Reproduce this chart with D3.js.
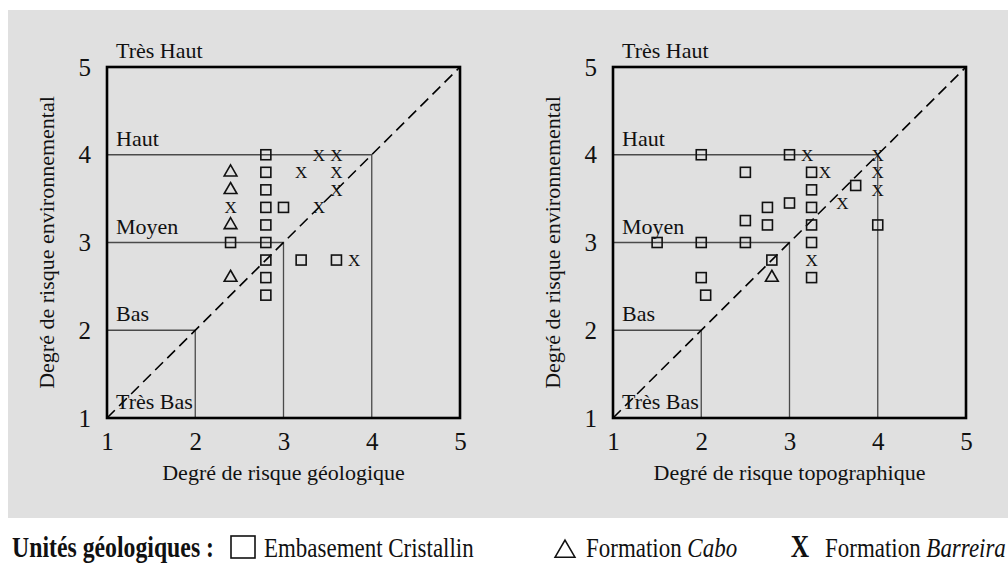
<!DOCTYPE html>
<html>
<head>
<meta charset="utf-8">
<script src="https://cdn.jsdelivr.net/npm/d3@7"></script>
<style>
  body { margin: 0; background: #fff; }
  svg { display: block; font-family: "Liberation Serif", "Times New Roman", serif; }
</style>
</head>
<body>
<svg width="1008" height="565"></svg>
<script>
var svg = d3.select("svg");

// --- data ---
var ticks = [1, 2, 3, 4, 5];
var levels = [2, 3, 4];
var zoneNames = ["Très Bas", "Bas", "Moyen", "Haut", "Très Haut"];
var zoneValues = [1, 2, 3, 4, 5];

// left panel : risque géologique vs environnemental
var geoSquares = [[2.8, 4.0], [2.8, 3.8], [2.8, 3.6], [2.8, 3.4], [2.8, 3.2], [2.8, 3.0],
                  [2.8, 2.8], [2.8, 2.6], [2.8, 2.4], [3.0, 3.4], [3.2, 2.8], [3.6, 2.8], [2.4, 3.0]];
var geoTriangles = [[2.4, 3.8], [2.4, 3.6], [2.4, 3.2], [2.4, 2.6]];
var geoCrosses = [[3.4, 4.0], [3.6, 4.0], [3.2, 3.8], [3.6, 3.8], [3.6, 3.6], [3.4, 3.4],
                  [2.4, 3.4], [3.8, 2.8]];

// right panel : risque topographique vs environnemental
var topoSquares = [[2.0, 4.0], [3.0, 4.0], [2.5, 3.8], [3.25, 3.8], [3.25, 3.6], [3.75, 3.65],
                   [2.75, 3.4], [3.0, 3.45], [3.25, 3.4], [2.5, 3.25], [2.75, 3.2], [3.25, 3.2],
                   [4.0, 3.2], [1.5, 3.0], [2.0, 3.0], [2.5, 3.0], [3.25, 3.0], [2.8, 2.8],
                   [2.0, 2.6], [2.05, 2.4], [3.25, 2.6]];
var topoTriangles = [[2.8, 2.6]];
var topoCrosses = [[3.2, 4.0], [3.4, 3.8], [4.0, 4.0], [4.0, 3.8], [4.0, 3.6], [3.6, 3.45], [3.25, 2.8]];

var legendTitle = "Unités géologiques :";
var legendItems = [
  {sym: "square", label: "Embasement Cristallin", italic: ""},
  {sym: "triangle", label: "Formation ", italic: "Cabo"},
  {sym: "cross", label: "Formation ", italic: "Barreira"}
];

// gray panel behind the two plots
svg.append("rect")
    .attr("x", 8).attr("y", 10)
    .attr("width", 1000).attr("height", 508)
    .attr("fill", "#e0e0e0");

function panel(left, xTitle, squares, triangles, crosses) {
  var x = d3.scaleLinear().domain([1, 5]).range([left, left + 353]),
      y = d3.scaleLinear().domain([1, 5]).range([418, 67]);

  var g = svg.append("g");

  // class boundaries
  g.selectAll(".level")
    .data(levels)
    .enter().append("path")
      .attr("class", "level")
      .attr("d", function(v) { return "M" + x(1) + "," + y(v) + "H" + x(v) + "V" + y(1); })
      .attr("fill", "none")
      .attr("stroke", "#4a4a4a")
      .attr("stroke-width", 1.3);

  // diagonal
  g.append("line")
      .attr("x1", x(1)).attr("y1", y(1))
      .attr("x2", x(5)).attr("y2", y(5))
      .attr("stroke", "#000")
      .attr("stroke-width", 1.6)
      .attr("stroke-dasharray", "11,6");

  // frame
  g.append("rect")
      .attr("x", x(1)).attr("y", y(5))
      .attr("width", x(5) - x(1)).attr("height", y(1) - y(5))
      .attr("fill", "none")
      .attr("stroke", "#000")
      .attr("stroke-width", 2.6);

  // axes
  var ax = g.append("g")
      .attr("transform", "translate(0," + y(1) + ")")
      .call(d3.axisBottom(x).tickValues(ticks).tickSize(0).tickPadding(14).tickFormat(d3.format("d")));
  var ay = g.append("g")
      .attr("transform", "translate(" + x(1) + ",0)")
      .call(d3.axisLeft(y).tickValues(ticks).tickSize(0).tickPadding(16).tickFormat(d3.format("d")));
  [ax, ay].forEach(function(a) {
    a.select(".domain").remove();
    a.attr("font-family", null).attr("font-size", 25)
     .selectAll("text").attr("fill", "#111");
  });

  // zone names
  g.selectAll(".zone")
    .data(zoneNames)
    .enter().append("text")
      .attr("class", "zone")
      .attr("x", x(1) + 9)
      .attr("y", function(d, i) { return y(zoneValues[i]) - 9; })
      .attr("font-size", 22)
      .attr("fill", "#111")
      .text(function(d) { return d; });

  // titles
  g.append("text")
      .attr("x", (x(1) + x(5)) / 2).attr("y", 480)
      .attr("text-anchor", "middle")
      .attr("font-size", 22)
      .attr("fill", "#111")
      .text(xTitle);
  g.append("text")
      .attr("transform", "translate(" + (x(1) - 53) + "," + ((y(1) + y(5)) / 2) + ") rotate(-90)")
      .attr("text-anchor", "middle")
      .attr("font-size", 22)
      .attr("fill", "#111")
      .text("Degré de risque environnemental");

  // points
  g.selectAll(".sq")
    .data(squares)
    .enter().append("rect")
      .attr("class", "sq")
      .attr("x", function(d) { return x(d[0]) - 5; })
      .attr("y", function(d) { return y(d[1]) - 5; })
      .attr("width", 10).attr("height", 10)
      .attr("fill", "none")
      .attr("stroke", "#111")
      .attr("stroke-width", 1.6);

  g.selectAll(".tri")
    .data(triangles)
    .enter().append("path")
      .attr("class", "tri")
      .attr("transform", function(d) { return "translate(" + x(d[0]) + "," + y(d[1]) + ")"; })
      .attr("d", d3.symbol(d3.symbolTriangle, 70))
      .attr("fill", "none")
      .attr("stroke", "#111")
      .attr("stroke-width", 1.6);

  g.selectAll(".cr")
    .data(crosses)
    .enter().append("text")
      .attr("class", "cr")
      .attr("x", function(d) { return x(d[0]); })
      .attr("y", function(d) { return y(d[1]); })
      .attr("dy", "0.34em")
      .attr("text-anchor", "middle")
      .attr("font-size", 17)
      .attr("fill", "#111")
      .text("X");
}

panel(107, "Degré de risque géologique", geoSquares, geoTriangles, geoCrosses);
panel(613, "Degré de risque topographique", topoSquares, topoTriangles, topoCrosses);

// legend (the caption in the figure is a condensed serif)
var leg = svg.append("g").attr("transform", "translate(0,557)");

function legText(x, parts, opts) {
  var t = leg.append("text")
      .attr("transform", "translate(" + x + ",0) scale(0.82,1)")
      .attr("font-size", opts.size || 28)
      .attr("font-weight", opts.bold ? "bold" : null)
      .attr("text-anchor", opts.anchor || null)
      .attr("fill", "#111");
  parts.forEach(function(p, i) {
    t.append("tspan").attr("font-style", i ? "italic" : null).text(p);
  });
  return t;
}

legText(12, [legendTitle], {bold: true, size: 29});

var legPos = {square: 243, triangle: 565, cross: 800};

legendItems.forEach(function(it) {
  var cx = legPos[it.sym];
  if (it.sym === "square") {
    leg.append("rect").attr("x", cx - 12).attr("y", -21).attr("width", 24).attr("height", 22)
       .attr("fill", "none").attr("stroke", "#111").attr("stroke-width", 1.6);
  } else if (it.sym === "triangle") {
    leg.append("path").attr("transform", "translate(" + cx + ",-5.5)")
       .attr("d", d3.symbol(d3.symbolTriangle, 170))
       .attr("fill", "none").attr("stroke", "#111").attr("stroke-width", 1.6);
  } else {
    legText(cx, ["X"], {bold: true, size: 31, anchor: "middle"});
  }
  legText(cx + (it.sym === "cross" ? 25 : 21), it.italic ? [it.label, it.italic] : [it.label], {});
});
</script>
</body>
</html>
